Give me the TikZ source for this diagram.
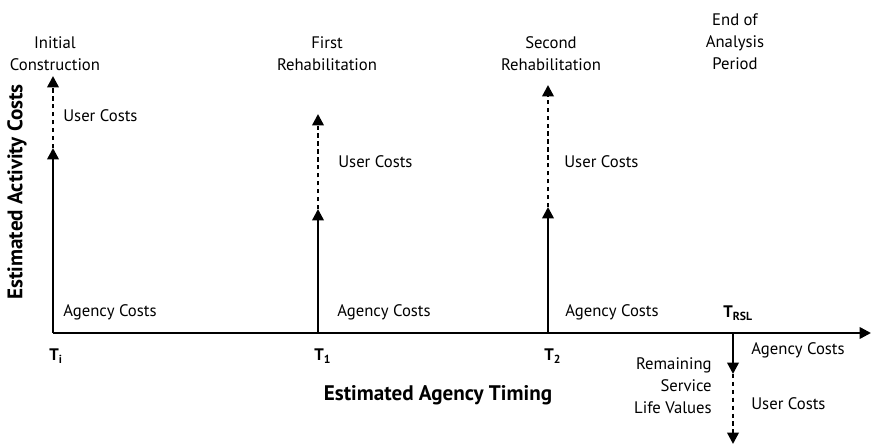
\documentclass[tikz,border=0pt]{standalone}
\usepackage{fontspec}
\setmainfont{PT Sans}
\usetikzlibrary{arrows.meta}

\begin{document}
\begin{tikzpicture}[x = 0.02cm, y = -0.02cm,
  font = \fontsize{9.5}{12.5}\selectfont]
\tikzset{costline/.style = {line width = 1.4pt,
                            -{Triangle[width = 6.5pt, length = 6.5pt]}},
         userline/.style = {costline, dash pattern = on 2.5pt off 2pt},
         costlabel/.style = {anchor = west, inner sep = 0pt},
         eventlabel/.style = {align = center, inner sep = 0pt},
         axislabel/.style = {font = \fontsize{12}{14}\selectfont\bfseries, inner sep = 0pt}}
\useasboundingbox (0,0) rectangle (871,445);
% time axis
\coordinate (Ti) at (53,333);
\coordinate (T1) at (318,333);
\coordinate (T2) at (548,333);
\coordinate (TR) at (733,333);
\coordinate (Tend) at (871,333);
% arrow tips
\coordinate (Ti-a) at (53,148);
\coordinate (Ti-u) at (53,76);
\coordinate (T1-a) at (318,209);
\coordinate (T1-u) at (318,114);
\coordinate (T2-a) at (548,207);
\coordinate (T2-u) at (548,85);
\coordinate (TR-a) at (733,374);
\coordinate (TR-u) at (733,444);
\draw[costline] (Ti) -- (Tend);
\draw[costline] (Ti) -- (Ti-a);
\draw[userline] (Ti-a) -- (Ti-u);
\draw[costline] (T1) -- (T1-a);
\draw[userline] (T1-a) -- (T1-u);
\draw[costline] (T2) -- (T2-a);
\draw[userline] (T2-a) -- (T2-u);
\draw[costline] (TR) -- (TR-a);
\draw[userline] (TR-a) -- (TR-u);
% events
\node[eventlabel] (init) at (55,54) {Initial\\Construction};
\node[eventlabel] (first) at (327,54) {First\\Rehabilitation};
\node[eventlabel] (second) at (551,54) {Second\\Rehabilitation};
\node[eventlabel] (endap) at (735,42) {End of\\Analysis\\Period};
% costs
\node[costlabel] (ui) at (63,116) {User Costs};
\node[costlabel] (u1) at (338,162) {User Costs};
\node[costlabel] (u2) at (564,162) {User Costs};
\node[costlabel] (ai) at (63,312) {Agency Costs};
\node[costlabel] (a1) at (337,312) {Agency Costs};
\node[costlabel] (a2) at (565,312) {Agency Costs};
\node[costlabel] (ar) at (751,350) {Agency Costs};
\node[costlabel] (ur) at (751,404) {User Costs};
\node[align = right, anchor = east, inner sep = 0pt] (rsl) at (712,386)
  {Remaining\\Service\\Life Values};
% times
\node[anchor = west, inner sep = 0pt] (ti) at (49,356) {\textbf{T\textsubscript{i}}};
\node[anchor = west, inner sep = 0pt] (t1) at (314,356) {\textbf{T\textsubscript{1}}};
\node[anchor = west, inner sep = 0pt] (t2) at (544,356) {\textbf{T\textsubscript{2}}};
\node[anchor = west, inner sep = 0pt] (trsl) at (723,313) {\textbf{T\textsubscript{RSL}}};
% axes
\node[axislabel] (xlab) at (438,395) {Estimated Agency Timing};
\node[axislabel, rotate = 90] (ylab) at (17,192) {Estimated Activity Costs};
\end{tikzpicture}
\end{document}
